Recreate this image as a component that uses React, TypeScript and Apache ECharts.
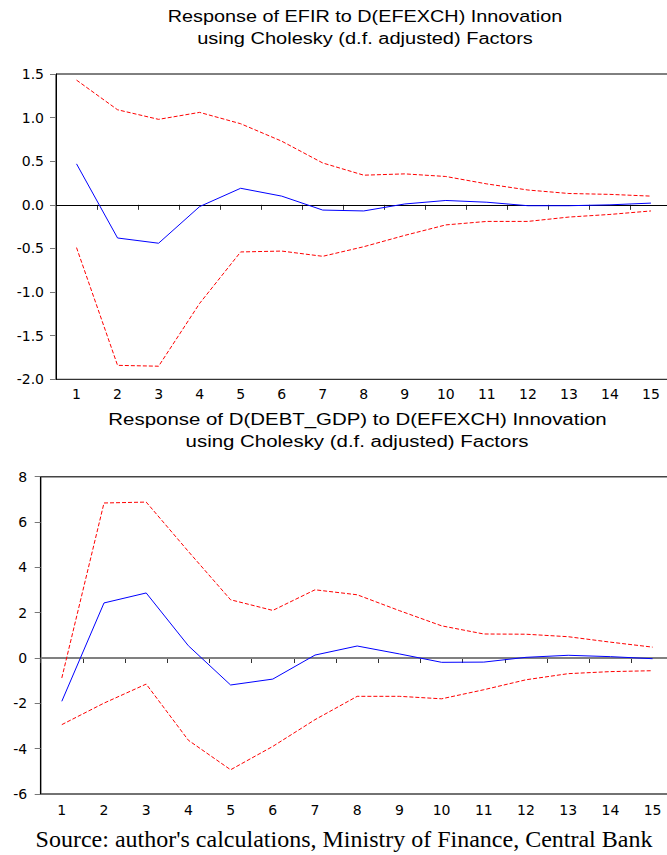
import React, { useEffect, useRef } from "react";
import * as echarts from "echarts";

const periods = ["1", "2", "3", "4", "5", "6", "7", "8", "9", "10", "11", "12", "13", "14", "15"];

const efirResponse = [0.47, -0.38, -0.44, -0.02, 0.19, 0.1, -0.06, -0.07, 0.01, 0.05, 0.03, -0.01, -0.01, 0.0, 0.02];
const efirUpper = [1.43, 1.09, 0.98, 1.06, 0.93, 0.73, 0.48, 0.34, 0.355, 0.325, 0.24, 0.17, 0.13, 0.12, 0.1];
const efirLower = [-0.49, -1.84, -1.85, -1.13, -0.54, -0.53, -0.59, -0.48, -0.35, -0.23, -0.19, -0.19, -0.14, -0.11, -0.07];

const debtResponse = [-1.91, 2.43, 2.87, 0.54, -1.19, -0.93, 0.13, 0.53, 0.18, -0.19, -0.18, 0.03, 0.12, 0.06, -0.03];
const debtUpper = [-0.88, 6.84, 6.88, 4.7, 2.57, 2.1, 3.01, 2.79, 2.09, 1.42, 1.06, 1.05, 0.94, 0.7, 0.48];
const debtLower = [-2.94, -1.99, -1.15, -3.63, -4.93, -3.9, -2.72, -1.69, -1.69, -1.8, -1.4, -0.96, -0.69, -0.6, -0.56];

const topTitle = ["Response of EFIR to D(EFEXCH) Innovation", "using Cholesky (d.f. adjusted) Factors"];
const bottomTitle = ["Response of D(DEBT_GDP) to D(EFEXCH) Innovation", "using Cholesky (d.f. adjusted) Factors"];
const sourceNote = "Source: author's calculations, Ministry of Finance, Central Bank";

const TICK_FONT = "'DejaVu Sans', sans-serif";
const TITLE_FONT = "'Liberation Sans', Arial, sans-serif";

function titleText(text: string, x: number, y: number, sx: number) {
  return {
    type: "text",
    x,
    y,
    scaleX: sx,
    silent: true,
    style: {
      text,
      x: 0,
      y: 0,
      align: "center",
      verticalAlign: "middle",
      textAlign: "center",
      textVerticalAlign: "middle",
      fontSize: 16,
      fontFamily: TITLE_FONT,
      fill: "#000",
    },
  };
}

function xAxisCfg(gridIndex: number, margin: number) {
  return {
    type: "category",
    gridIndex,
    data: periods,
    boundaryGap: true,
    axisLine: { show: true, lineStyle: { color: "#000", width: 1 } },
    axisTick: { show: true, length: 5, inside: false, alignWithLabel: false, lineStyle: { color: "#333", width: 1 } },
    axisLabel: { show: true, margin, fontSize: 14, fontFamily: TICK_FONT, color: "#000", interval: 0 },
    splitLine: { show: false },
  };
}

function yAxisCfg(gridIndex: number, min: number, max: number, interval: number, decimals: number, margin: number) {
  return {
    type: "value",
    gridIndex,
    min,
    max,
    interval,
    axisLine: { show: true, onZero: false, lineStyle: { color: "#000", width: 1 } },
    axisTick: { show: true, length: 6, inside: false, lineStyle: { color: "#777", width: 1 } },
    axisLabel: {
      show: true,
      margin,
      fontSize: 14,
      fontFamily: TICK_FONT,
      color: "#000",
      padding: [0, 0, 7, 0],
      formatter: (v: number) => v.toFixed(decimals),
    },
    splitLine: { show: false },
  };
}

function bandSeries(name: string, data: number[], idx: number) {
  return {
    name,
    type: "line",
    xAxisIndex: idx,
    yAxisIndex: idx,
    data,
    symbol: "none",
    silent: true,
    lineStyle: { color: "#ff0000", width: 1, type: [4, 2] },
  };
}

function responseSeries(name: string, data: number[], idx: number, zeroColor: string, zeroWidth: number) {
  return {
    name,
    type: "line",
    xAxisIndex: idx,
    yAxisIndex: idx,
    data,
    symbol: "none",
    silent: true,
    z: 3,
    lineStyle: { color: "#0000ff", width: 1 },
    markLine: {
      silent: true,
      symbol: "none",
      label: { show: false },
      lineStyle: { color: zeroColor, width: zeroWidth, type: "solid" },
      data: [{ yAxis: 0 }],
      z: 1,
    },
  };
}

export default function App() {
  const ref = useRef<HTMLDivElement>(null);

  useEffect(() => {
    if (!ref.current) return;
    const chart = echarts.init(ref.current, undefined, { renderer: "svg" });
    const option: any = {
      animation: false,
      backgroundColor: "#ffffff",
      grid: [
        {
          left: 56,
          top: 74,
          width: 615.5,
          height: 305.3,
          show: true,
          borderColor: "#000",
          borderWidth: 1,
          backgroundColor: "transparent",
          containLabel: false,
          outerBoundsMode: "none",
        },
        {
          left: 40.7,
          top: 476.7,
          width: 633,
          height: 317.3,
          show: true,
          borderColor: "#444",
          borderWidth: 1.6,
          backgroundColor: "transparent",
          containLabel: false,
          outerBoundsMode: "none",
        },
      ],
      xAxis: [xAxisCfg(0, 8), xAxisCfg(1, 9)],
      yAxis: [yAxisCfg(0, -2, 1.5, 0.5, 1, 12), yAxisCfg(1, -6, 8, 2, 0, 13.5)],
      series: [
        bandSeries("EFIR upper", efirUpper, 0),
        bandSeries("EFIR lower", efirLower, 0),
        responseSeries("EFIR response", efirResponse, 0, "#000", 1),
        bandSeries("DEBT upper", debtUpper, 1),
        bandSeries("DEBT lower", debtLower, 1),
        responseSeries("DEBT response", debtResponse, 1, "#808080", 2),
      ],
      graphic: [
        titleText(topTitle[0], 365, 16.5, 1.24),
        titleText(topTitle[1], 365, 38.5, 1.25),
        titleText(bottomTitle[0], 357.5, 419, 1.277),
        titleText(bottomTitle[1], 357, 441, 1.277),
        {
          type: "text",
          x: 344,
          y: 838.5,
          silent: true,
          style: {
            text: sourceNote,
            x: 0,
            y: 0,
            align: "center",
            verticalAlign: "middle",
            textAlign: "center",
            textVerticalAlign: "middle",
            fontSize: 24,
            fontFamily: "'Liberation Serif', 'Times New Roman', serif",
            fill: "#000",
          },
        },
      ],
    };
    chart.setOption(option);
    return () => {
      chart.dispose();
    };
  }, []);

  return (
    <div
      ref={ref}
      style={{ position: "fixed", left: 0, top: 0, width: 667, height: 855, background: "#fff" }}
    />
  );
}
